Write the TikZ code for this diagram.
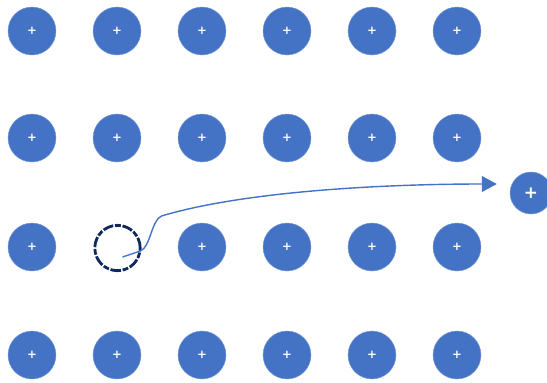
\documentclass[tikz,border=0pt]{standalone}
\usepackage{fontspec}
\usepackage{tikz}
\usetikzlibrary{arrows.meta,calc}
\newfontfamily\plusfont{DejaVu Sans}
\definecolor{ionblue}{HTML}{4472C4}
\definecolor{vacnavy}{HTML}{0E2A5C}

\begin{document}
\begin{tikzpicture}[x=0.03cm,y=-0.03cm,
    ion/.style={circle,fill=ionblue,draw=ionblue!70!white,line width=0.4pt,
      minimum size=1.44cm,inner sep=0pt,text=white,font=\plusfont\bfseries\normalsize},
    vacancy/.style={circle,draw=vacnavy,line width=2.4pt,minimum size=1.36cm,
      inner sep=0pt,dash pattern=on 9pt off 1.5pt on 5pt off 1.5pt},
    jump/.style={ionblue,line width=1.2pt,-{Triangle[length=0.45cm,width=0.48cm]}}]
  \useasboundingbox (0,0) rectangle (547,383);
  % Gitter der Ionen, Platz (1,2) bleibt leer
  \foreach \col in {0,...,5}
    \foreach \row/\y in {0/31,1/138,2/247,3/355}{
      \ifnum\col=1 \ifnum\row=2 \else
        \node[ion] (ion-\col-\row) at (32+85*\col,\y) {+};
      \fi \else
        \node[ion] (ion-\col-\row) at (32+85*\col,\y) {+};
      \fi
    }
  % Leerstelle
  \node[vacancy] (vac) at (117.5,248) {};
  % herausgeloestes Ion
  \node[ion,minimum size=1.26cm,font=\plusfont\bfseries\Large] (free) at (531,193) {+};
  % Sprung aus der Leerstelle
  \coordinate (tail) at ($(vac.center)+(5,9)$);
  \coordinate (head) at ($(free.west)+(-13,-9)$);
  \draw[jump] (tail) -- ++(18,-6)
    .. controls +(10,-4) and +(-10,4) .. ++(21,-35)
    .. controls +(80,-24) and +(-120,0) .. (head);
\end{tikzpicture}
\end{document}
